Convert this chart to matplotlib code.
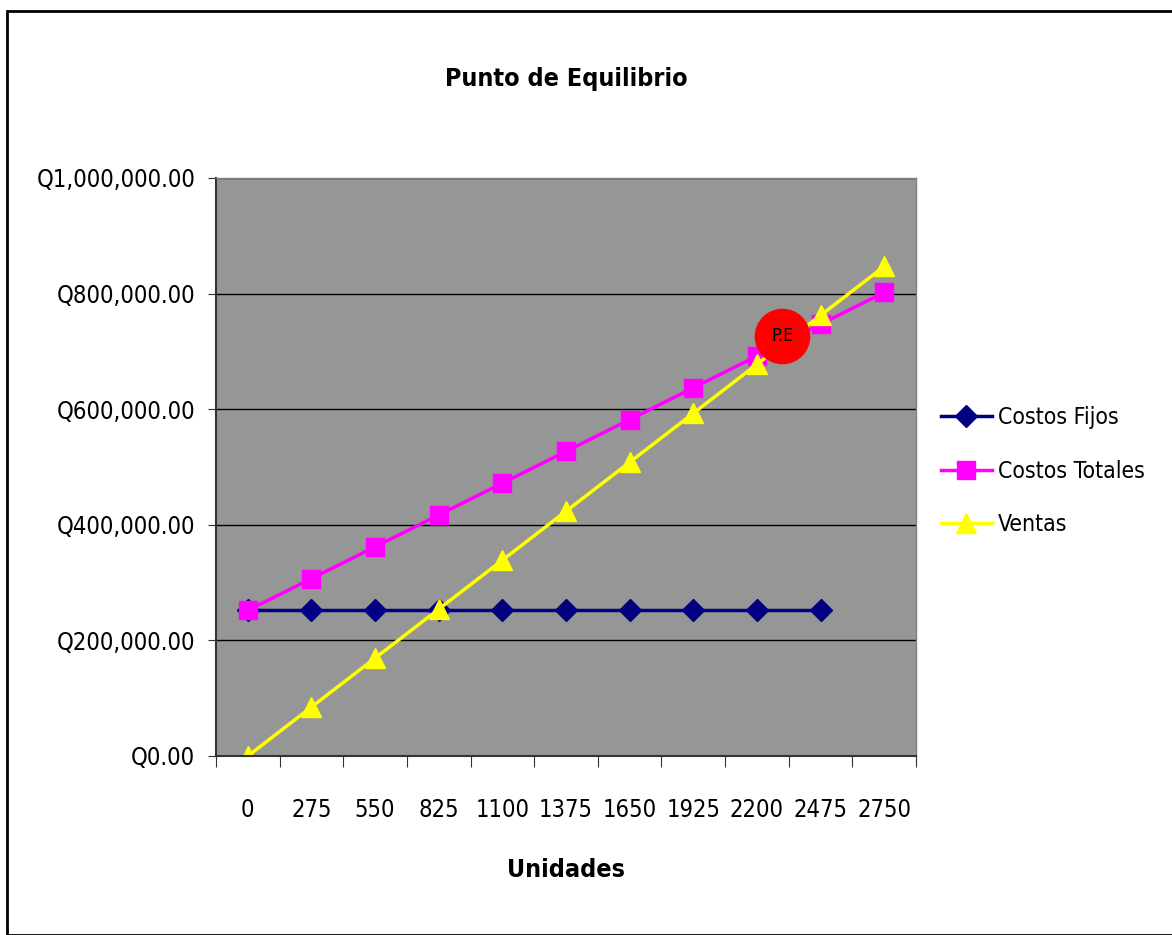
import matplotlib.pyplot as plt
from matplotlib.patches import Rectangle
from matplotlib.ticker import FuncFormatter, FixedLocator

plt.rcParams['font.family'] = ['DejaVu Sans']
plt.rcParams['font.stretch'] = 'condensed'

# unidades y valores de cada serie
unidades = [0, 275, 550, 825, 1100, 1375, 1650, 1925, 2200, 2475, 2750]
costos_fijos = [252000] * 10
costos_totales = [252000, 307000, 362000, 417000, 472000, 527000, 582000,
                  637000, 692000, 747000, 802000]
ventas = [0, 84700, 169400, 254100, 338800, 423500, 508200, 592900,
          677600, 762300, 847000]
# punto de equilibrio
pe_unidades = 2310
pe_valor = 727000

fig = plt.figure(figsize=(11.72, 9.35), dpi=100)
fig.patches.append(Rectangle((7 / 1172, 0), 1.1, 1 - 11 / 935, transform=fig.transFigure,
                             fill=False, edgecolor='black', linewidth=2))

ax = fig.add_axes([216 / 1172, 1 - 756 / 935, 700 / 1172, 578 / 935])
ax.set_facecolor('#969696')

xs = list(range(len(unidades)))
ax.plot(xs[:len(costos_fijos)], costos_fijos, color='#000080', lw=2.5,
        marker='D', ms=11, label='Costos Fijos')
ax.plot(xs, costos_totales, color='#FF00FF', lw=2.5,
        marker='s', ms=12.5, label='Costos Totales')
ax.plot(xs, ventas, color='#FFFF00', lw=2.5,
        marker='^', ms=15, label='Ventas')

pe_x = pe_unidades / 275
ax.plot([pe_x], [pe_valor], 'o', color='#FF0000', ms=39, zorder=5)
ax.text(pe_x, pe_valor, 'P.E', ha='center', va='center', fontsize=13, zorder=6)

ax.set_xlim(-0.5, len(unidades) - 0.5)
ax.set_ylim(0, 1000000)
ax.yaxis.set_major_locator(FixedLocator([0, 200000, 400000, 600000, 800000, 1000000]))
ax.yaxis.set_major_formatter(FuncFormatter(lambda v, p: f'Q{v:,.2f}'))
ax.grid(axis='y', color='black', lw=1)
ax.set_axisbelow(True)

ax.set_xticks([i - 0.5 for i in range(len(unidades) + 1)])
ax.set_xticklabels([])
ax.set_xticks(xs, minor=True)
ax.set_xticklabels([str(u) for u in unidades], minor=True, fontsize=17)
ax.tick_params(axis='x', which='major', length=8, direction='out', color='#333333')
ax.tick_params(axis='x', which='minor', length=0, pad=30)
ax.tick_params(axis='y', length=6, direction='out', pad=9, labelsize=17, color='#333333')

for s in ['left', 'bottom']:
    ax.spines[s].set_color('#333333')
    ax.spines[s].set_linewidth(1.5)
for s in ['top', 'right']:
    ax.spines[s].set_color('#808080')
    ax.spines[s].set_linewidth(1)

ax.set_title('Punto de Equilibrio', fontsize=18, fontweight='bold', pad=66)
ax.set_xlabel('Unidades', fontsize=18, fontweight='bold', labelpad=26)

ax.legend(loc='center left', bbox_to_anchor=(1.023, 0.493), frameon=False, fontsize=16.5,
          handlelength=2.2, handletextpad=0.26, labelspacing=1.35, borderaxespad=0)

plt.savefig('out.png')
